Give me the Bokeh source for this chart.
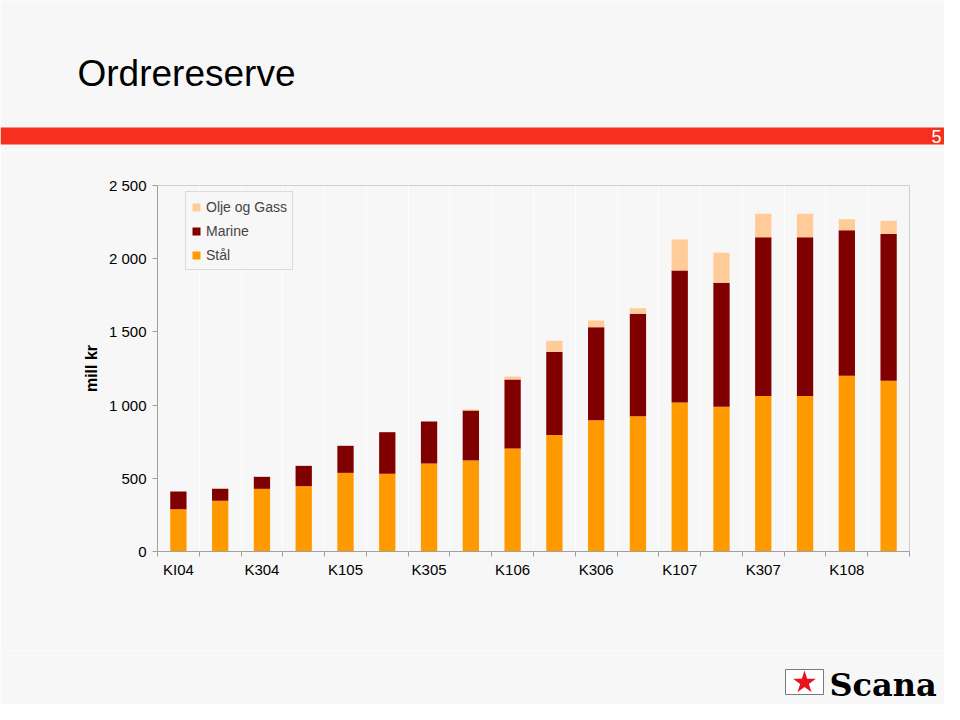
from bokeh.plotting import figure
from bokeh.layouts import column
from bokeh.models import (Range1d, FixedTicker, Legend, LegendItem, ColumnDataSource)
from bokeh.core.properties import value
from bokeh.embed import file_html
from bokeh.resources import INLINE

# ---- data ----
quarters = ["KI04", "K204", "K304", "K404", "K105", "K205", "K305", "K405",
            "K106", "K206", "K306", "K406", "K107", "K207", "K307", "K407",
            "K108", "K208"]
stal = [289, 346, 428, 446, 537, 531, 601, 622, 704, 795, 897, 924,
        1018, 988, 1063, 1063, 1200, 1166]
marine = [121, 82, 82, 139, 185, 284, 287, 341, 471, 569, 635, 700,
          902, 847, 1084, 1084, 995, 1002]
olje = [0, 0, 0, 0, 0, 0, 0, 8, 20, 75, 46, 38, 211, 205, 160, 160, 75, 91]
y_ticks = [0, 500, 1000, 1500, 2000, 2500]
y_tick_labels = ["0", "500", "1 000", "1 500", "2 000", "2 500"]
series_names = ["Stål", "Marine", "Olje og Gass"]
series_colors = ["#FF9900", "#800000", "#FFCC99"]
title_text = "Ordrereserve"
page_number = "5"
logo_text = "Scana"

BG = "#f7f7f7"
FONT = "Liberation Sans"
W = 944

# ---------- header (title + red band) ----------
hdr = figure(width=W, height=150, output_backend="svg", toolbar_location=None,
             x_range=Range1d(0, W), y_range=Range1d(150, 0),
             x_axis_location=None, y_axis_location=None,
             min_border=0, frame_align=False)
hdr.background_fill_color = BG
hdr.border_fill_color = BG
hdr.outline_line_color = None
hdr.grid.visible = False
hdr.text(x=[77], y=[73], text=[title_text], text_font=value(FONT),
         text_font_size="37px", text_color="black", text_baseline="middle")
hdr.quad(left=[0], right=[W], top=[127], bottom=[144], fill_color="#F5301F",
         line_color=None)
hdr.text(x=[941], y=[136], text=[page_number], text_font=value(FONT),
         text_font_size="18px", text_color="white", text_align="right",
         text_baseline="middle")

# ---------- chart ----------
n = len(quarters)
xs = [i + 0.5 for i in range(n)]
src = ColumnDataSource(dict(x=xs, q=quarters, stal=stal, marine=marine, olje=olje))

p = figure(width=W, height=500, output_backend="svg", toolbar_location=None,
           x_range=Range1d(0, n), y_range=Range1d(0, 2500),
           min_border_left=157, min_border_right=W - 909,
           min_border_top=35, min_border_bottom=99, frame_align=False)
p.background_fill_color = BG
p.border_fill_color = BG
p.outline_line_color = "#d0d0d0"
p.outline_line_width = 1

rs = p.vbar_stack(["stal", "marine", "olje"], x="x", width=0.39, source=src,
                  color=series_colors, line_color=None)

p.yaxis.ticker = FixedTicker(ticks=y_ticks)
p.yaxis.major_label_overrides = {t: l for t, l in zip(y_ticks, y_tick_labels)}
p.yaxis.minor_tick_line_color = None
p.yaxis.major_tick_out = 5
p.yaxis.major_tick_in = 0
p.yaxis.major_label_standoff = 6
p.yaxis.axis_line_color = "#a0a0a0"
p.yaxis.major_tick_line_color = "#a0a0a0"
p.yaxis.major_label_text_font = FONT
p.yaxis.major_label_text_font_size = "15px"
p.yaxis.major_label_text_color = "black"
p.yaxis.axis_label = "mill kr"
p.yaxis.axis_label_text_font = FONT
p.yaxis.axis_label_text_font_style = "bold"
p.yaxis.axis_label_text_font_size = "16px"
p.yaxis.axis_label_text_color = "black"
p.yaxis.axis_label_standoff = 6

label_pos = xs[::2]
p.xaxis.ticker = FixedTicker(ticks=label_pos, minor_ticks=list(range(n + 1)))
p.xaxis.major_label_overrides = {x: q for x, q in zip(xs, quarters)}
p.xaxis.major_tick_out = 0
p.xaxis.major_tick_in = 0
p.xaxis.minor_tick_out = 5
p.xaxis.minor_tick_in = 0
p.xaxis.minor_tick_line_color = "#a0a0a0"
p.xaxis.axis_line_color = "#a0a0a0"
p.xaxis.major_label_standoff = 4
p.xaxis.major_label_text_font = FONT
p.xaxis.major_label_text_font_size = "15px"
p.xaxis.major_label_text_color = "black"

p.ygrid.visible = False
p.xgrid.ticker = FixedTicker(ticks=list(range(1, n)))
p.xgrid.grid_line_color = "#ffffff"
p.xgrid.grid_line_alpha = 0.7

legend = Legend(items=[LegendItem(label=series_names[i], renderers=[rs[i]]) for i in (2, 1, 0)],
                location=(28, 281))
legend.label_text_font = FONT
legend.label_text_font_size = "14px"
legend.glyph_width = 10
legend.glyph_height = 10
legend.label_height = 19
legend.spacing = 5
legend.padding = 5
legend.label_standoff = 5
legend.border_line_color = "#c0c0c0"
legend.background_fill_color = BG
legend.background_fill_alpha = 1
p.add_layout(legend, "center")

# ---------- footer (logo) ----------
ftr = figure(width=W, height=54, output_backend="svg", toolbar_location=None,
             x_range=Range1d(0, W), y_range=Range1d(704, 650),
             x_axis_location=None, y_axis_location=None,
             min_border=0, frame_align=False)
ftr.background_fill_color = BG
ftr.border_fill_color = BG
ftr.outline_line_color = None
ftr.grid.visible = False
ftr.quad(left=[785], right=[823], top=[669], bottom=[694], fill_color="white",
         line_color="#7a7a7a", line_width=1)
ftr.scatter(x=[804], y=[682], marker="star", size=24, fill_color="#E8141B",
            line_color=None)
ftr.text(x=[829], y=[684], text=[logo_text], text_font=value("DejaVu Serif"),
         text_font_style="bold", text_font_size="32px", text_color="black",
         text_baseline="middle")

layout = column(hdr, p, ftr, spacing=0)
open("out.html", "w").write(file_html(layout, INLINE))
